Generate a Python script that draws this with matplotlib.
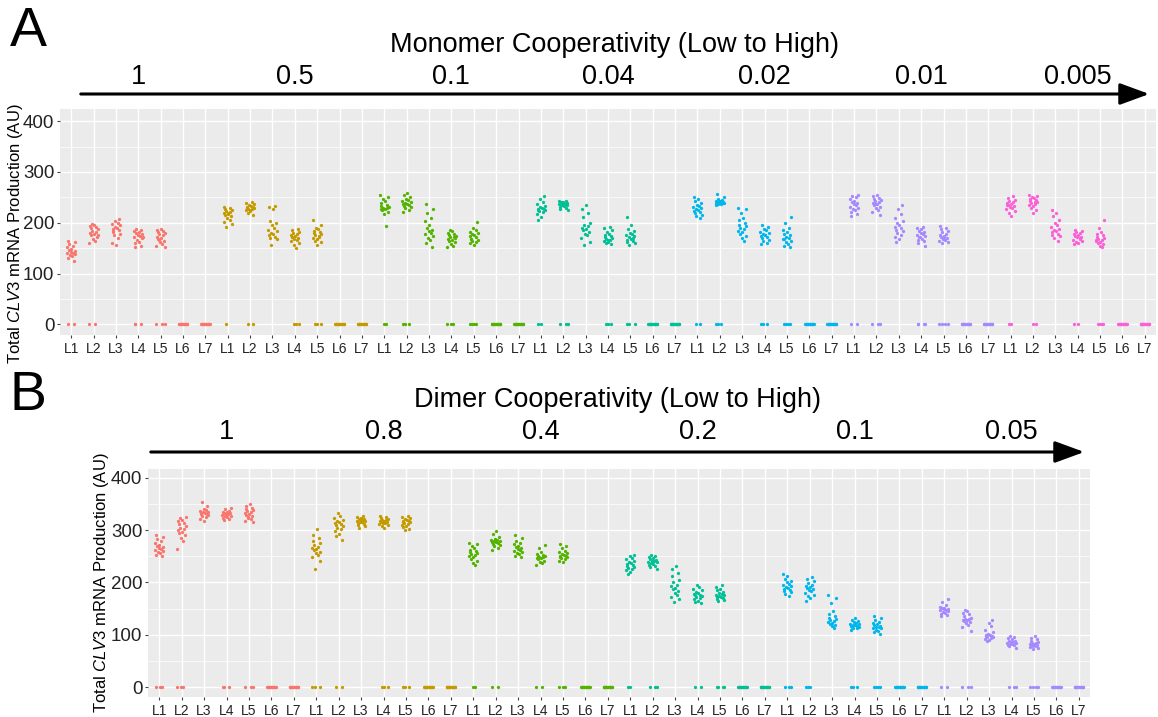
import numpy as np
import matplotlib.pyplot as plt
from matplotlib.patches import FancyArrowPatch
from matplotlib.transforms import blended_transform_factory

plt.rcParams['font.family'] = ['Liberation Sans', 'DejaVu Sans']
plt.rcParams['mathtext.fontset'] = 'custom'
plt.rcParams['mathtext.rm'] = 'Liberation Sans'
plt.rcParams['mathtext.it'] = 'Liberation Sans:italic'

LAYERS = ['L1', 'L2', 'L3', 'L4', 'L5', 'L6', 'L7']
PALETTE = ['#F8766D', '#C49A00', '#53B400', '#00C094', '#00B6EB', '#A58AFF', '#FB61D7']

# monomer cooperativity levels, CLV3 output per layer (L1..L5, L6/L7 are all zero)
MONO_LEVELS = ['1', '0.5', '0.1', '0.04', '0.02', '0.01', '0.005']
MONO_1 = [
    [125, 131, 134, 136, 138, 140, 141, 143, 145, 147, 149, 152, 155, 158, 162, 165],
    [160, 165, 168, 172, 175, 178, 180, 182, 184, 187, 190, 192, 193, 195, 197, 176],
    [157, 160, 170, 175, 178, 182, 185, 187, 190, 192, 195, 198, 200, 204, 207, 183],
    [152, 155, 160, 163, 167, 170, 172, 174, 176, 178, 180, 182, 184, 186, 187, 171],
    [152, 155, 158, 162, 165, 168, 170, 172, 175, 177, 179, 181, 184, 186, 188, 166],
]
MONO_05 = [
    [192, 198, 202, 206, 210, 213, 215, 217, 219, 221, 223, 225, 227, 229, 232, 220],
    [216, 220, 223, 225, 227, 228, 229, 230, 231, 232, 233, 235, 237, 239, 241, 226],
    [157, 168, 170, 172, 175, 178, 180, 183, 186, 190, 195, 200, 204, 228, 231, 233],
    [151, 156, 160, 164, 166, 168, 170, 172, 173, 175, 177, 179, 182, 185, 187, 171],
    [157, 162, 165, 168, 170, 172, 175, 177, 179, 181, 184, 188, 190, 195, 205, 174],
]
MONO_01 = [
    [193, 218, 222, 225, 227, 228, 229, 230, 232, 233, 235, 238, 242, 246, 250, 255],
    [222, 226, 229, 231, 233, 235, 236, 237, 238, 240, 242, 244, 247, 250, 254, 258],
    [153, 160, 166, 170, 174, 177, 180, 183, 186, 190, 196, 203, 210, 220, 228, 237],
    [152, 155, 158, 162, 165, 167, 169, 171, 172, 174, 176, 178, 180, 183, 186, 170],
    [157, 160, 163, 165, 167, 169, 171, 173, 175, 177, 179, 182, 186, 190, 202, 168],
]
MONO_004 = [
    [205, 212, 218, 221, 223, 225, 226, 227, 228, 229, 231, 233, 236, 240, 246, 252],
    [225, 228, 230, 232, 233, 234, 235, 236, 237, 238, 239, 240, 241, 242, 243, 236],
    [157, 163, 170, 175, 178, 182, 185, 188, 190, 193, 196, 200, 212, 220, 228, 235],
    [158, 160, 162, 164, 166, 168, 170, 171, 173, 175, 178, 182, 186, 190, 192, 167],
    [157, 160, 162, 165, 167, 169, 171, 173, 175, 178, 180, 183, 187, 195, 212, 170],
]
MONO_002 = [
    [210, 213, 216, 219, 222, 224, 226, 228, 229, 231, 233, 235, 238, 242, 246, 250],
    [235, 236, 237, 238, 238, 239, 240, 240, 241, 242, 243, 244, 246, 250, 256, 239],
    [165, 170, 174, 178, 181, 184, 187, 190, 193, 196, 200, 205, 210, 220, 227, 230],
    [158, 161, 164, 167, 170, 172, 174, 176, 178, 180, 182, 185, 188, 192, 196, 175],
    [152, 155, 158, 162, 165, 168, 170, 172, 175, 178, 182, 186, 190, 200, 212, 169],
]
MONO_001 = [
    [213, 218, 222, 225, 228, 230, 232, 234, 236, 238, 240, 243, 246, 250, 253, 255],
    [215, 222, 226, 229, 232, 234, 236, 238, 240, 242, 244, 246, 249, 252, 255, 237],
    [163, 168, 172, 176, 180, 183, 186, 189, 192, 195, 199, 203, 210, 218, 227, 235],
    [155, 160, 164, 167, 169, 171, 173, 175, 177, 179, 181, 184, 187, 190, 192, 172],
    [160, 162, 164, 166, 168, 170, 172, 174, 176, 178, 181, 184, 187, 190, 193, 171],
]
MONO_0005 = [
    [214, 220, 224, 227, 229, 231, 233, 235, 236, 238, 240, 242, 245, 248, 252, 234],
    [220, 226, 230, 233, 235, 237, 239, 241, 242, 244, 246, 248, 250, 253, 255, 240],
    [165, 170, 173, 176, 178, 181, 183, 185, 188, 191, 195, 200, 206, 213, 220, 226],
    [158, 161, 163, 165, 167, 169, 171, 172, 174, 176, 178, 180, 182, 184, 185, 170],
    [152, 155, 158, 160, 162, 164, 166, 168, 170, 172, 175, 178, 182, 190, 205, 167],
]
# number of runs with zero output, per layer L1..L7
MONO_ZEROS = [
    [2, 2, 0, 3, 3, 16, 16],
    [1, 2, 0, 3, 3, 16, 16],
    [2, 3, 0, 3, 4, 16, 16],
    [2, 3, 0, 3, 3, 16, 16],
    [2, 3, 0, 3, 4, 16, 16],
    [2, 3, 0, 4, 4, 16, 16],
    [2, 2, 0, 2, 4, 16, 16],
]

# dimer cooperativity levels
DIMER_LEVELS = ['1', '0.8', '0.4', '0.2', '0.1', '0.05']
DIMER_1 = [
    [250, 253, 256, 258, 260, 262, 264, 265, 267, 269, 272, 275, 279, 283, 287, 290],
    [264, 280, 286, 290, 294, 297, 300, 302, 305, 308, 311, 314, 317, 320, 323, 326],
    [318, 322, 325, 327, 329, 330, 331, 332, 333, 334, 335, 336, 338, 341, 346, 354],
    [320, 322, 324, 326, 327, 328, 329, 330, 331, 332, 333, 334, 335, 337, 340, 342],
    [315, 318, 321, 324, 327, 329, 331, 333, 335, 337, 339, 341, 343, 346, 350, 326],
]
DIMER_08 = [
    [225, 242, 248, 252, 256, 259, 262, 264, 266, 268, 271, 275, 280, 285, 290, 302],
    [282, 288, 293, 298, 302, 305, 308, 310, 312, 314, 316, 318, 320, 323, 327, 332],
    [305, 308, 310, 312, 314, 315, 316, 317, 318, 319, 320, 321, 322, 324, 326, 327],
    [305, 308, 310, 312, 313, 314, 315, 316, 317, 318, 319, 320, 322, 324, 326, 327],
    [300, 303, 306, 308, 310, 312, 313, 315, 316, 317, 318, 320, 322, 324, 326, 328],
]
DIMER_04 = [
    [233, 238, 242, 245, 248, 250, 252, 254, 256, 258, 260, 263, 266, 270, 273, 276],
    [262, 266, 270, 272, 274, 276, 277, 278, 279, 280, 281, 282, 284, 287, 292, 298],
    [248, 251, 254, 256, 258, 260, 262, 264, 266, 268, 270, 273, 276, 280, 285, 290],
    [233, 237, 240, 242, 244, 246, 247, 248, 249, 250, 251, 252, 254, 258, 265, 272],
    [240, 242, 244, 246, 248, 249, 250, 251, 252, 254, 256, 258, 261, 265, 269, 273],
]
DIMER_02 = [
    [216, 220, 223, 226, 228, 230, 232, 234, 236, 238, 240, 242, 244, 247, 250, 253],
    [226, 229, 232, 234, 236, 238, 239, 240, 241, 242, 243, 245, 247, 249, 251, 253],
    [163, 168, 172, 176, 180, 184, 187, 190, 193, 196, 200, 205, 212, 218, 225, 232],
    [160, 163, 165, 168, 170, 172, 174, 176, 177, 178, 180, 182, 185, 188, 192, 195],
    [165, 167, 169, 170, 172, 173, 175, 176, 177, 178, 180, 182, 185, 188, 192, 195],
]
DIMER_01 = [
    [175, 178, 181, 184, 186, 188, 190, 192, 193, 195, 197, 200, 203, 207, 212, 216],
    [165, 170, 174, 177, 180, 183, 185, 187, 189, 191, 193, 196, 199, 203, 207, 210],
    [113, 116, 119, 121, 123, 125, 127, 129, 131, 133, 136, 140, 145, 160, 170, 176],
    [110, 112, 113, 114, 115, 116, 117, 118, 119, 120, 121, 122, 124, 126, 129, 132],
    [102, 105, 108, 110, 112, 113, 114, 115, 116, 118, 120, 122, 125, 128, 132, 136],
]
DIMER_005 = [
    [135, 138, 140, 142, 144, 146, 147, 148, 149, 150, 151, 152, 154, 157, 162, 168],
    [108, 115, 119, 122, 124, 126, 128, 129, 130, 131, 133, 136, 139, 142, 145, 148],
    [88, 90, 92, 94, 95, 96, 97, 98, 99, 100, 102, 105, 110, 116, 122, 128],
    [75, 78, 80, 81, 82, 83, 84, 85, 86, 87, 88, 89, 91, 93, 96, 98],
    [72, 75, 77, 78, 79, 80, 81, 82, 83, 84, 85, 86, 88, 91, 94, 98],
]
DIMER_ZEROS = [
    [3, 3, 0, 3, 3, 16, 16],
    [3, 2, 0, 3, 3, 16, 16],
    [2, 2, 0, 2, 3, 16, 16],
    [2, 3, 0, 2, 4, 16, 16],
    [3, 3, 0, 3, 4, 16, 16],
    [2, 3, 0, 3, 4, 16, 16],
]

# fixed horizontal jitter pattern (fraction of a category)
JITTER = [0.12, -0.15, 0.03, -0.06, 0.18, -0.19, 0.08, -0.02,
          0.15, -0.11, 0.01, -0.17, 0.10, -0.08, 0.19, -0.13]

YLABEL = r'Total $\it{CLV3}$ mRNA Production (AU)'


def strip_panel(ax, groups, zeros):
    ncat = len(groups) * len(LAYERS)
    for g, (layer_vals, nz) in enumerate(zip(groups, zeros)):
        for k in range(len(LAYERS)):
            pos = g * len(LAYERS) + k
            vals = list(layer_vals[k]) if k < len(layer_vals) else []
            y = vals + [0] * nz[k]
            offs = np.array([JITTER[(i + pos * 5) % len(JITTER)] for i in range(len(y))])
            ax.scatter(pos + offs, y, s=5.5, color=PALETTE[g], linewidths=0, zorder=3)

    ax.set_facecolor('#EBEBEB')
    for s in ax.spines.values():
        s.set_visible(False)
    ax.set_xlim(-0.5, ncat - 0.5)
    ax.set_xticks(range(ncat))
    ax.set_xticklabels(LAYERS * len(groups), fontsize=10, color='#222222')
    ax.set_yticks([0, 100, 200, 300, 400])
    ax.set_yticks([50, 150, 250, 350], minor=True)
    ax.tick_params(axis='y', labelsize=13.5, colors='#222222', length=2.5, color='#444444', pad=1.5)
    ax.tick_params(axis='x', length=2.5, color='#444444', pad=2.5)
    ax.tick_params(axis='y', which='minor', length=0)
    ax.grid(which='major', color='white', lw=1.0, zorder=0)
    ax.grid(which='minor', axis='y', color='white', lw=0.5, zorder=0)
    ax.set_axisbelow(True)
    ax.set_ylabel(YLABEL, fontsize=12)


def header(fig, ax, letter, title, levels, y_letter, y_title, y_levels, y_arrow, x0, x1):
    W, H = fig.get_size_inches() * fig.dpi
    fig.text(10 / W, 1 - y_letter / H, letter, fontsize=40, va='center', ha='left')
    fig.text((x0 + x1) / 2 / W, 1 - y_title / H, title, fontsize=19.5, ha='center', va='center')
    tr = blended_transform_factory(ax.transData, fig.transFigure)
    for g, lab in enumerate(levels):
        ax.text(g * len(LAYERS) + 3, 1 - y_levels / H, lab, transform=tr,
                fontsize=19.5, ha='center', va='center', clip_on=False)
    arrow = FancyArrowPatch((x0 / W, 1 - y_arrow / H), (x1 / W, 1 - y_arrow / H),
                            transform=fig.transFigure, arrowstyle='-|>,head_length=0.9,head_width=0.33',
                            mutation_scale=20, lw=2.2, color='black')
    fig.add_artist(arrow)


fig = plt.figure(figsize=(11.58, 7.17), dpi=100)
W, H = 1158, 717

axA = fig.add_axes([60 / W, 1 - 335 / H, 1096 / W, 226 / H])
strip_panel(axA, [MONO_1, MONO_05, MONO_01, MONO_004, MONO_002, MONO_001, MONO_0005], MONO_ZEROS)
axA.set_ylim(-21, 424)
axA.yaxis.set_label_coords(-0.032, 0.45)

axB = fig.add_axes([148 / W, 1 - 697 / H, 942 / W, 228 / H])
strip_panel(axB, [DIMER_1, DIMER_08, DIMER_04, DIMER_02, DIMER_01, DIMER_005], DIMER_ZEROS)
axB.set_ylim(-19, 417)
axB.yaxis.set_label_coords(-0.039, 0.5)

header(fig, axA, 'A', 'Monomer Cooperativity (Low to High)', MONO_LEVELS,
       32, 45, 77, 94, 78, 1152)
header(fig, axB, 'B', 'Dimer Cooperativity (Low to High)', DIMER_LEVELS,
       396, 400, 432, 452, 148, 1087)

fig.savefig('out.png', dpi=100)
